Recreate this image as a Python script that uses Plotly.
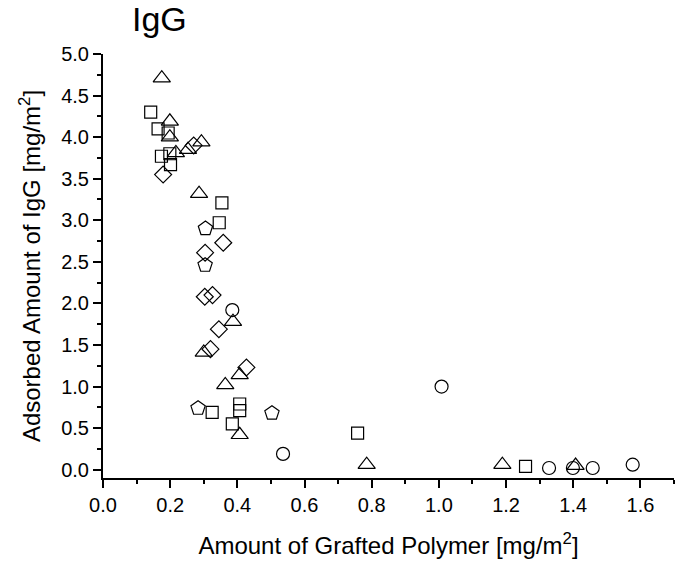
import plotly.graph_objects as go

# Adsorbed IgG vs. grafted polymer amount, one open-marker series per polymer type
sq_x = [0.142, 0.164, 0.194, 0.174, 0.199, 0.201, 0.354, 0.346, 0.325, 0.407, 0.407, 0.385, 0.758, 1.258]
sq_y = [4.30, 4.10, 4.05, 3.77, 3.80, 3.67, 3.21, 2.97, 0.69, 0.79, 0.71, 0.55, 0.44, 0.04]

tri_x = [0.175, 0.199, 0.199, 0.293, 0.253, 0.217, 0.286, 0.387, 0.300, 0.407, 0.364, 0.407, 0.785, 1.189, 1.407]
tri_y = [4.71, 4.19, 4.00, 3.94, 3.85, 3.81, 3.32, 1.78, 1.41, 1.14, 1.02, 0.42, 0.06, 0.06, 0.05]

dia_x = [0.270, 0.179, 0.358, 0.304, 0.303, 0.326, 0.345, 0.320, 0.427]
dia_y = [3.90, 3.55, 2.73, 2.61, 2.08, 2.10, 1.69, 1.45, 1.23]

pen_x = [0.305, 0.304, 0.283, 0.503]
pen_y = [2.90, 2.46, 0.74, 0.68]

cir_x = [0.385, 0.536, 1.008, 1.328, 1.399, 1.458, 1.577]
cir_y = [1.92, 0.19, 1.00, 0.02, 0.02, 0.02, 0.06]

x_ticks = [0.0, 0.2, 0.4, 0.6, 0.8, 1.0, 1.2, 1.4, 1.6]
y_ticks = [0.0, 0.5, 1.0, 1.5, 2.0, 2.5, 3.0, 3.5, 4.0, 4.5, 5.0]

FONT = "Arial, Liberation Sans, sans-serif"

series = [
    (sq_x, sq_y, "square-open", 12),
    (pen_x, pen_y, "pentagon-open", 15),
    (dia_x, dia_y, "diamond-open", 13),
    (tri_x, tri_y, "triangle-up-open", 15),
    (cir_x, cir_y, "circle-open", 13),
]

fig = go.Figure()
for xs, ys, sym, size in series:
    fig.add_trace(go.Scatter(
        x=xs, y=ys, mode="markers",
        marker=dict(symbol=sym, size=size, color="black", line=dict(width=1.2, color="black")),
        showlegend=False,
    ))

axis_common = dict(
    showline=True, linecolor="black", linewidth=2,
    ticks="outside", ticklen=8, tickwidth=1.5, tickcolor="black",
    showgrid=False, zeroline=False, mirror=False,
    tickfont=dict(family=FONT, size=20, color="black"),
)

fig.update_layout(
    width=681, height=561,
    margin=dict(l=103, r=7, t=54, b=83),
    plot_bgcolor="white", paper_bgcolor="white",
    xaxis=dict(
        range=[0, 1.7], tickvals=x_ticks, ticktext=[f"{v:.1f}" for v in x_ticks],
        minor=dict(dtick=0.1, ticks="outside", ticklen=4, tickwidth=1.5, tickcolor="black", showgrid=False),
        title=dict(text="Amount of Grafted Polymer [mg/m<sup>2</sup>]", font=dict(family=FONT, size=24, color="black"), standoff=22),
        **axis_common,
    ),
    yaxis=dict(
        range=[-0.1, 5.0], tickvals=y_ticks, ticktext=[f"{v:.1f}" for v in y_ticks],
        minor=dict(dtick=0.25, ticks="outside", ticklen=4, tickwidth=1.5, tickcolor="black", showgrid=False),
        title=dict(text="Adsorbed Amount of IgG [mg/m<sup>2</sup>]", font=dict(family=FONT, size=24, color="black"), standoff=14),
        **axis_common,
    ),
    annotations=[dict(
        text="IgG", xref="paper", yref="paper", x=0.047, y=1.0, yshift=56,
        xanchor="left", yanchor="top", showarrow=False,
        font=dict(family=FONT, size=34, color="black"),
    )],
)

fig.write_html("out.html")
